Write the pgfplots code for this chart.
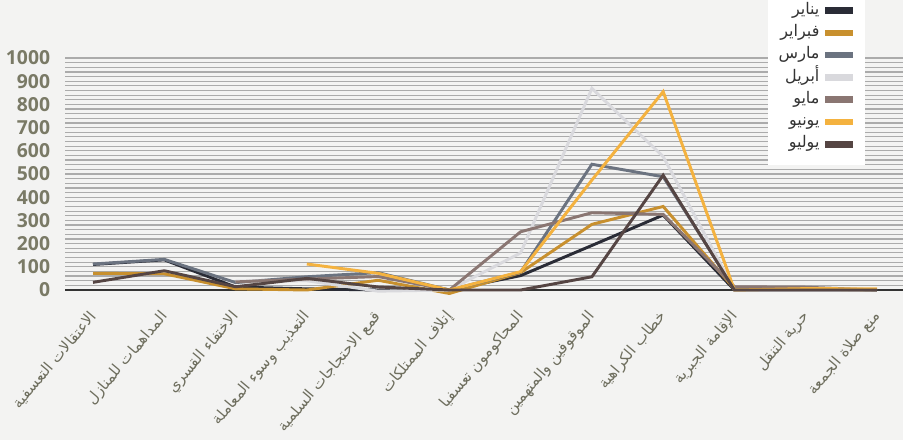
\documentclass[border=0pt]{standalone}
\usepackage{fontspec}
\setmainfont{Open Sans}
\newfontfamily\arabicfont[Script=Arabic]{DejaVu Sans}
\TeXXeTstate=1
\usepackage{pgfplots}
\pgfplotsset{compat=1.18}
\definecolor{bg}{HTML}{F3F3F2}
\definecolor{gridcol}{HTML}{ABABAB}
\definecolor{axcol}{HTML}{333333}
\definecolor{ytc}{HTML}{7A7A66}
\definecolor{xtc}{HTML}{6E6E5E}
\definecolor{cjan}{HTML}{2A2C36}
\definecolor{cfeb}{HTML}{C8902E}
\definecolor{cmar}{HTML}{6B7380}
\definecolor{capr}{HTML}{D9D9DD}
\definecolor{cmay}{HTML}{8A7672}
\definecolor{cjun}{HTML}{F4B23F}
\definecolor{cjul}{HTML}{554543}
\begin{document}
\begin{tikzpicture}
\path[use as bounding box, fill=bg] (0,0) rectangle (677.25pt,330pt);
\begin{axis}[
  at={(48.75pt,112.5pt)}, anchor=south west,
  scale only axis, width=628.5pt, height=174pt,
  xmin=-0.393, xmax=11.365, ymin=0, ymax=1000,
  clip=false,
  axis line style={draw=none},
  tick style={draw=none},
  ytick={0,100,...,1000},
  minor ytick={20,40,...,980},
  ymajorgrids, yminorgrids,
  major grid style={draw=gridcol, line width=0.9pt},
  minor grid style={draw=gridcol, line width=0.9pt},
  extra y ticks={0}, extra y tick labels={},
  extra y tick style={grid=major, major grid style={draw=axcol, line width=1.1pt}},
  /pgf/number format/assume math mode=true,
  /pgf/number format/1000 sep={},
  yticklabel style={font=\bfseries\fontsize{14.5}{16}\selectfont, text=ytc, inner sep=0pt, xshift=-11pt},
  xtick={0,...,11},
  xticklabels={
    {\arabicfont\beginR الاعتقالات التعسفية\endR},
    {\arabicfont\beginR المداهمات للمنازل\endR},
    {\arabicfont\beginR الاختفاء القسري\endR},
    {\arabicfont\beginR التعذيب وسوء المعاملة\endR},
    {\arabicfont\beginR قمع الاحتجاجات السلمية\endR},
    {\arabicfont\beginR إتلاف الممتلكات\endR},
    {\arabicfont\beginR المحاكومون تعسفيا\endR},
    {\arabicfont\beginR الموقوفين والمتهمين\endR},
    {\arabicfont\beginR خطاب الكراهية\endR},
    {\arabicfont\beginR الإقامة الجبرية\endR},
    {\arabicfont\beginR حرية التنقل\endR},
    {\arabicfont\beginR منع صلاة الجمعة\endR}},
  xticklabel style={font=\fontsize{11.3}{13}\selectfont, text=xtc, xshift=0.5pt, yshift=-18pt, rotate=50, anchor=east, inner sep=0pt},
  legend style={at={(0.9547,1.293)}, anchor=north east, draw=none, fill=white,
    inner xsep=6pt, inner ysep=7.5pt, row sep=1.2pt,
    font=\fontsize{12}{14}\selectfont, text=axcol,
    nodes={text height=8.5pt, text depth=3pt, inner sep=2pt}},
  legend cell align=right,
  legend plot pos=right,
  legend image code/.code={\draw[#1, line width=5pt] (0pt,0pt) -- (21pt,0pt);},
  legend entries={
    {\arabicfont\beginR يناير\endR},
    {\arabicfont\beginR فبراير\endR},
    {\arabicfont\beginR مارس\endR},
    {\arabicfont\beginR أبريل\endR},
    {\arabicfont\beginR مايو\endR},
    {\arabicfont\beginR يونيو\endR},
    {\arabicfont\beginR يوليو\endR}},
]
\addplot[color=cjan, line width=2.2pt] coordinates {(0,110)(1,130)(2,13)(3,5)(4,0)(5,0)(6,62)(7,192)(8,323)(9,0)(10,0)(11,0)};
\addplot[color=cfeb, line width=2.2pt] coordinates {(0,72)(1,70)(2,5)(3,0)(4,42)(5,-15)(6,75)(7,283)(8,360)(9,5)(10,4)(11,0)};
\addplot[color=cmar, line width=2.2pt] coordinates {(0,112)(1,132)(2,32)(3,57)(4,75)(5,0)(6,77)(7,542)(8,488)(9,5)(10,5)(11,0)};
\addplot[color=capr, line width=2.2pt] coordinates {(2,38)(3,40)(4,-5)(5,0)(6,160)(7,869)(8,575)(9,0)(10,0)(11,0)};
\addplot[color=cmay, line width=2.2pt] coordinates {(2,35)(3,47)(4,58)(5,0)(6,251)(7,333)(8,326)(9,14)(10,12)(11,0)};
\addplot[color=cjun, line width=2.2pt] coordinates {(3,112)(4,72)(5,0)(6,79)(7,474)(8,855)(9,0)(10,6)(11,5)};
\addplot[color=cjul, line width=2.2pt] coordinates {(0,33)(1,83)(2,14)(3,50)(4,13)(5,0)(6,0)(7,57)(8,495)(9,0)(10,0)(11,0)};
\end{axis}
\end{tikzpicture}
\end{document}
